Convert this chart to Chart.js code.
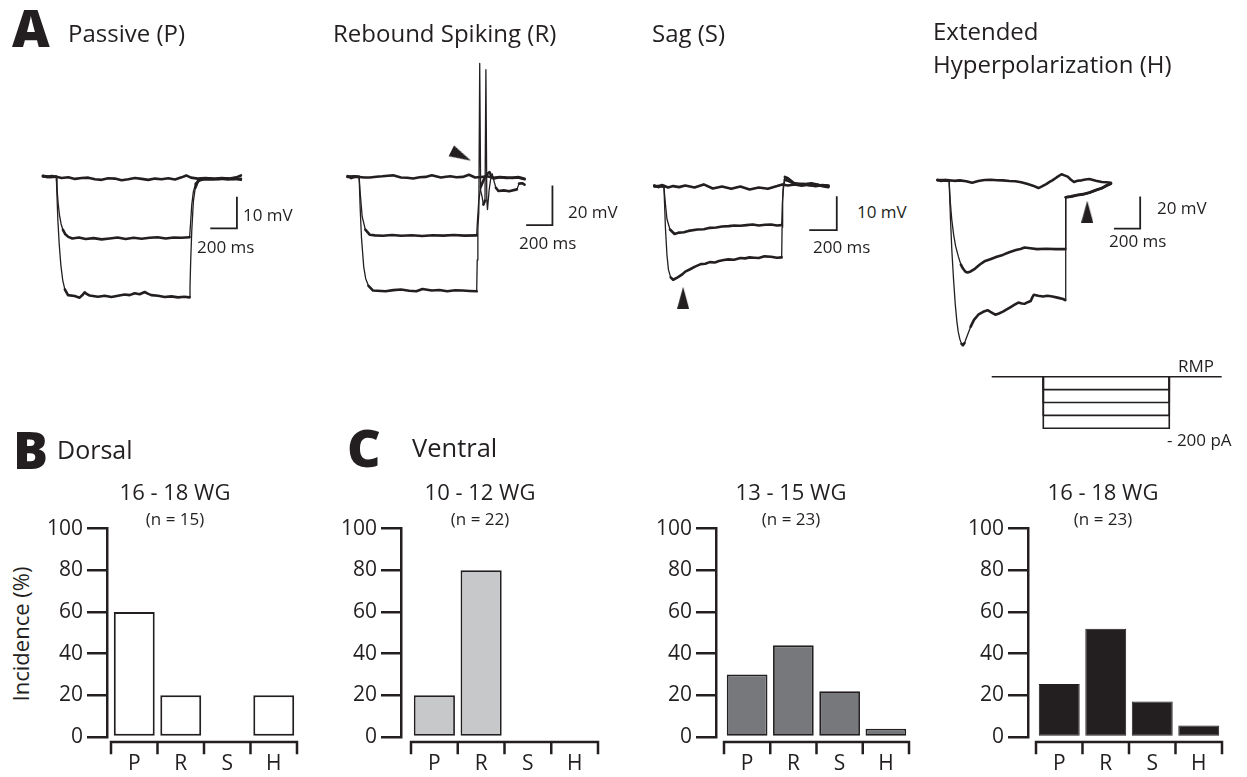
<!DOCTYPE html>
<html>
<head>
<meta charset="utf-8">
<script src="https://cdn.jsdelivr.net/npm/chart.js@4.4.1/dist/chart.umd.min.js"></script>
<style>
  body { margin: 0; background: #fff; }
  #fig { position: relative; width: 1247px; height: 777px; overflow: hidden; font-family: 'Open Sans', sans-serif; color: #231f20; }
  #fig canvas { position: absolute; }
  .t { position: absolute; white-space: nowrap; line-height: 1; }
</style>
</head>
<body>
<div id="fig"></div>
<script>
// ---- data: traces are [time ms, membrane potential mV rel. to rest] ----
passiveTop = [[-100,0.3],[-70,-0.1],[-35,0.2],[0,0],[40,-0.4],[90,-0.2],[140,-0.7],[190,-0.4],[240,-0.3],[290,-0.8],[340,-1.0],[390,-0.5],[440,-0.6],[490,-1.1],[540,-0.8],[590,-0.4],[640,-0.7],[690,-1.0],[740,-0.6],[790,-0.8],[840,-0.5],[890,-0.9],[940,-0.2],[975,0.4],[1010,-0.3],[1060,-0.6],[1120,-0.4],[1180,-0.7],[1240,-0.4],[1300,-0.6],[1350,-0.2],[1385,0.4]];
passiveMid = [[-100,0.1],[-50,-0.2],[0,0],[6,-4],[14,-8.5],[24,-12.2],[36,-15],[50,-16.9],[68,-18.3],[90,-19.1],[120,-19.6],[170,-19.3],[220,-19.8],[280,-19.5],[340,-19.9],[400,-19.6],[460,-19.3],[520,-19.8],[580,-19.4],[640,-19.7],[700,-19.4],[760,-19.2],[820,-19.6],[880,-19.3],[940,-19.4],[1000,-19.2],[1007,-15],[1016,-9],[1028,-4.8],[1045,-2.3],[1070,-1.2],[1110,-0.8],[1170,-0.9],[1230,-0.6],[1290,-0.9],[1340,-0.6],[1385,-1.0]];
passiveBot = [[-100,0.2],[-40,0],[0,0],[5,-6],[12,-14],[22,-21.5],[34,-28],[48,-32.8],[64,-35.8],[88,-37.6],[138,-37.9],[175,-38.4],[200,-37.4],[213,-36.7],[230,-37.3],[250,-37.7],[313,-38.1],[363,-37.8],[413,-38.2],[463,-37.8],[513,-37.4],[550,-37.6],[588,-37.0],[625,-37.3],[663,-36.6],[690,-37.2],[713,-37.6],[763,-37.8],[813,-38.2],[863,-38.0],[913,-38.3],[960,-38.1],[1000,-38.3],[1003,-35],[1008,-27],[1016,-17.5],[1028,-8],[1042,-3.6],[1062,-1.5],[1090,-0.7],[1150,-0.5],[1210,-0.8],[1270,-0.5],[1330,-0.8],[1385,-0.7]];
passiveBar = [[1155,-16.4],[1355,-16.4],[1355,-6.4]];

reboundTop = [[-88,0.4],[-60,-0.6],[-30,0.2],[0,0],[40,-0.3],[82,-0.3],[130,0.1],[176,0.3],[220,0.6],[258,0.8],[318,-0.3],[365,-0.4],[411,-0.8],[460,-0.2],[505,0],[553,0.8],[590,0.2],[623,-0.3],[660,0.1],[694,0.3],[740,-0.2],[788,0],[835,1.1],[882,-0.3],[929,0],[975,0.3],[1023,-0.5],[1070,0],[1120,-0.3],[1165,-0.5],[1210,-0.3],[1258,-1.2]];
reboundMid = [[-88,0.2],[-40,0],[0,0],[8,-8],[23,-20],[47,-26.7],[82,-29.3],[120,-29.6],[180,-29.8],[250,-29.4],[320,-29.8],[400,-29.5],[480,-29.9],[560,-29.5],[640,-29.7],[720,-29.4],[800,-29.7],[894,-29.6],[900,-22],[910,-12],[925,-5],[950,-1],[975,1.6],[992,2.4],[1005,0.5],[1023,-0.8],[1070,-0.2],[1120,-0.5],[1165,-0.4],[1210,-0.1],[1258,-0.9]];
reboundBot = [[-88,0],[-40,0.3],[0,0],[8,-16],[18,-31],[35,-45.6],[50,-51.5],[71,-55.1],[106,-57.5],[200,-57.9],[260,-57.3],[318,-57.0],[380,-57.6],[435,-57.9],[482,-56.7],[553,-57.5],[610,-57.2],[670,-57.9],[730,-57.4],[788,-57.5],[840,-57.7],[894,-57.9],[898,-42],[903,-26],[910,-18],[917,57.5],[924,-7],[935,-10],[945,-14],[957,-12],[964,54.3],[971,-12],[976,-16.5],[988,-7],[999,-1.6],[1012,1.5],[1025,-2],[1040,-5.5],[1059,-7.1],[1100,-6.8],[1140,-7.3],[1200,-6.3],[1216,-3.4],[1240,-3.2],[1258,-3.9]];
reboundBar = [[1270,-24.4],[1470,-24.4],[1470,-4.4]];
reboundArrow = [[776,10.7]];

sagTop = [[-70,0.3],[-40,-0.2],[-15,0.4],[0,0.2],[30,-0.3],[67,0.1],[110,-0.2],[155,0.3],[222,-0.3],[289,0.6],[355,-0.6],[422,0],[489,-0.7],[555,0],[622,-0.9],[689,-0.3],[755,-0.7],[822,0.1],[860,0.6],[900,0.3],[950,0.6],[1000,0.2],[1050,0.5],[1100,0.1],[1150,0.4],[1195,0.1]];
sagMid = [[-70,0.1],[-30,0],[0,0],[5,-2.5],[11,-5.2],[22,-9.6],[44,-12.7],[77,-14.0],[111,-13.6],[145,-13.5],[178,-13.1],[244,-12.7],[290,-12.6],[333,-12.2],[380,-12.1],[422,-11.8],[470,-11.7],[511,-11.5],[555,-11.6],[600,-11.4],[645,-11.2],[689,-11.5],[735,-11.3],[778,-11.2],[820,-11.5],[855,-11.4],[860,-5],[866,-1],[878,2.0],[911,1.5],[955,0.6],[1010,0.8],[1060,0.3],[1110,0.5],[1160,0],[1195,-0.2]];
sagBot = [[-70,0],[-30,0.2],[0,0],[5,-5.5],[11,-12.3],[22,-20.2],[33,-24.6],[49,-26.8],[67,-27.5],[100,-26.8],[130,-26.0],[155,-25.1],[190,-24.4],[222,-23.7],[267,-22.9],[300,-22.8],[333,-22.3],[370,-22.4],[400,-22.0],[435,-21.7],[467,-21.5],[510,-21.6],[555,-21.1],[590,-21.2],[622,-20.9],[655,-21.0],[689,-21.1],[730,-20.6],[778,-20.7],[820,-21.0],[855,-20.9],[858,-12],[862,-4],[867,0.1],[878,2.8],[900,2.4],[944,1.0],[1011,0.6],[1070,0.9],[1130,0.4],[1195,0.3]];
sagBar = [[1055,-12.9],[1255,-12.9],[1255,-2.9]];
sagArrow = [[139,-32.8]];

extTop = [[-88,0.3],[-60,-0.4],[-30,0.2],[0,0],[40,-0.3],[82,0],[130,-0.6],[176,-1.5],[223,-0.4],[270,0.2],[318,0.4],[365,0.1],[411,0],[460,-0.4],[505,-0.6],[550,-1.2],[600,-2.3],[640,-3.3],[682,-4.8],[712,-3.6],[741,-2.3],[770,-0.8],[788,0],[820,1.8],[858,3.8],[880,3.1],[905,2.3],[930,0.4],[953,-1.0],[980,-0.3],[1011,0],[1040,0.5],[1070,0.8],[1120,-0.2],[1165,-1.0],[1200,-1.2],[1235,-1.5]];
extMid = [[-88,0.2],[-50,0],[-12,-0.3],[0,0],[10,-14],[20,-24],[35,-34],[50,-41],[71,-47.6],[90,-52.5],[106,-55],[125,-57],[141,-57.5],[165,-56.8],[199,-55],[235,-52.5],[270,-50.5],[320,-49],[364,-47.6],[410,-46.5],[459,-44.8],[510,-43.5],[545,-42.8],[576,-41.9],[620,-42.4],[671,-42.9],[740,-42.7],[812,-42.9],[886,-42.9],[890,-10.5],[930,-10],[976,-9.1],[1020,-8.6],[1070,-7.6],[1120,-6],[1165,-4.8],[1200,-3.2],[1235,-1.9]];
extBot = [[-88,0.1],[-40,0.2],[0,0],[11,-24.8],[22,-45],[35,-62.9],[47,-77],[59,-87.6],[70,-94.5],[82,-99],[95,-102],[106,-102.9],[118,-101.5],[129,-99],[145,-95.5],[164,-91.4],[190,-87],[223,-83.8],[260,-82],[294,-81],[325,-82.5],[353,-83.8],[380,-83],[411,-81.9],[440,-80.5],[470,-79],[500,-77.5],[529,-76.2],[555,-76.8],[576,-77],[600,-76],[623,-75.2],[635,-73],[646,-71.4],[680,-72],[717,-72.4],[750,-72],[788,-72.4],[835,-73.3],[870,-74],[886,-74.7],[890,-10.5],[930,-10.2],[976,-9.3],[1020,-8.8],[1070,-7.8],[1120,-6.2],[1165,-5],[1200,-3.4],[1235,-2.1]];
extBar = [[1258,-30.1],[1458,-30.1],[1458,-10.1]];
extArrow = [[1054,-19.5]];

// current protocol, pA
stepLevels = [-50, -100, -150, -200];
stepOn = 0;
stepOff = 889;
sweepSpan = [-364, 1259];

// incidence (%)
categories = ["P", "R", "S", "H"];
dorsal1618 = [60, 20, 0, 20];
ventral1012 = [20, 80, 0, 0];
ventral1315 = [30, 44, 22, 4];
ventral1618 = [25.5, 52, 17, 5.5];

const ink = '#231f20';
const family = "'Open Sans', sans-serif";
const fig = document.getElementById('fig');
Chart.defaults.font.family = family;
Chart.defaults.color = ink;

function addCanvas(left, top, w, h) {
    const c = document.createElement('canvas');
    c.width = w; c.height = h;
    c.style.left = left + 'px'; c.style.top = top + 'px';
    fig.appendChild(c);
    return c;
}

function label(text, x, cy, size, weight) {
    const d = document.createElement('div');
    d.className = 't';
    d.textContent = text;
    d.style.left = x + 'px';
    d.style.top = (cy - 0.53 * size) + 'px';
    d.style.fontSize = size + 'px';
    if (weight) d.style.fontWeight = weight;
    fig.appendChild(d);
    return d;
}

function toXY(pts) { return pts.map(p => ({x: p[0], y: p[1]})); }

// steep parts of a sweep are thin, plateaus look thick
const steepThin = c => {
    const dx = Math.abs(c.p1.x - c.p0.x), dy = Math.abs(c.p1.y - c.p0.y);
    return (dy > 4 && dy > 2.5 * dx) ? 1.3 : undefined;
};

function sweep(pts) {
    return { data: toXY(pts), borderColor: ink, borderWidth: 2.6, pointRadius: 0,
             borderJoinStyle: 'round', borderCapStyle: 'round', segment: { borderWidth: steepThin } };
}
function scaleBar(pts) {
    return { data: toXY(pts), borderColor: ink, borderWidth: 1.8, pointRadius: 0, borderCapStyle: 'butt' };
}
function arrowHead(w, h) {
    const c = document.createElement('canvas');
    c.width = w; c.height = h;
    const g = c.getContext('2d');
    g.fillStyle = ink;
    g.beginPath(); g.moveTo(w / 2, 0); g.lineTo(w, h); g.lineTo(0, h); g.closePath(); g.fill();
    return c;
}
function arrow(pts, rot) {
    return { data: toXY(pts), showLine: false, pointStyle: arrowHead(12, 22), rotation: rot, pointRadius: 8 };
}

// frame: pixel of (t=0, v=0) and px per unit
function traceChart(box, frame, datasets) {
    const c = addCanvas(box[0], box[1], box[2], box[3]);
    new Chart(c, {
        type: 'line',
        data: { datasets: datasets },
        options: {
            responsive: false, animation: false, events: [], devicePixelRatio: 1,
            layout: { padding: 0 },
            plugins: { legend: { display: false }, tooltip: { enabled: false } },
            scales: {
                x: { type: 'linear', display: false,
                     min: (box[0] - frame.x0) / frame.sx, max: (box[0] + box[2] - frame.x0) / frame.sx },
                y: { type: 'linear', display: false,
                     min: (frame.y0 - box[1] - box[3]) / frame.sy, max: (frame.y0 - box[1]) / frame.sy }
            }
        }
    });
}

traceChart([30, 140, 230, 180], {x0: 56.3, y0: 176.7, sx: 0.1333, sy: 3.15},
    [sweep(passiveTop), sweep(passiveMid), sweep(passiveBot), scaleBar(passiveBar)]);
traceChart([330, 45, 250, 270], {x0: 351.7, y0: 176.7, sx: 0.1417, sy: 2.117},
    [sweep(reboundTop), sweep(reboundMid), sweep(reboundBot), scaleBar(reboundBar), arrow(reboundArrow, 116.6)]);
traceChart([635, 150, 220, 180], {x0: 656.7, y0: 180.5, sx: 0.15, sy: 3.77},
    [sweep(sagTop), sweep(sagMid), sweep(sagBot), scaleBar(sagBar), arrow(sagArrow, 0)]);
traceChart([920, 150, 240, 215], {x0: 941.7, y0: 173.3, sx: 0.1417, sy: 1.75},
    [sweep(extTop), sweep(extMid), sweep(extBot), scaleBar(extBar), arrow(extArrow, 0)]);

// step protocol
const protocolSets = [{ data: toXY([[sweepSpan[0], 0], [sweepSpan[1], 0]]), borderColor: ink, borderWidth: 1.6, pointRadius: 0 }];
stepLevels.forEach(lv => {
    protocolSets.push({ data: toXY([[stepOn, 0], [stepOn, lv], [stepOff, lv], [stepOff, 0]]),
                        borderColor: ink, borderWidth: 1.6, pointRadius: 0 });
});
traceChart([985, 365, 245, 75], {x0: 1043.3, y0: 376.7, sx: 0.1417, sy: 0.258}, protocolSets);

// bracket-style category axis under the bars
const bracketPlugin = {
    id: 'bracket',
    afterDraw(chart) {
        const x = chart.scales.x, ctx = chart.ctx, y0 = chart.chartArea.bottom + 5;
        const edges = categories.map((c, i) => x.getPixelForValue(i - 0.5));
        edges.push(x.getPixelForValue(categories.length - 0.5));
        ctx.save();
        ctx.strokeStyle = ink; ctx.lineWidth = 2.5; ctx.lineCap = 'square';
        ctx.beginPath();
        ctx.moveTo(edges[0], y0); ctx.lineTo(edges[edges.length - 1], y0);
        edges.forEach(e => { ctx.moveTo(e, y0); ctx.lineTo(e, y0 + 11); });
        ctx.stroke();
        ctx.restore();
    }
};

function barChart(cfg) {
    const c = addCanvas(cfg.left, 470, cfg.width, 307);
    new Chart(c, {
        type: 'bar',
        data: { datasets: [{
            data: cfg.values.map((v, i) => ({x: i, y: v})),
            backgroundColor: cfg.fill, borderColor: cfg.edge,
            borderWidth: ctx => (ctx.raw && ctx.raw.y > 0) ? cfg.edgeWidth : 0,
            borderSkipped: false, barPercentage: 0.88, categoryPercentage: 1
        }]},
        options: {
            responsive: false, animation: false, events: [], devicePixelRatio: 1,
            layout: { padding: 0 },
            plugins: {
                legend: { display: false }, tooltip: { enabled: false },
                title: { display: true, text: cfg.title, color: ink,
                         font: { size: 22, weight: 'normal', lineHeight: '24px' }, padding: { top: 11.3, bottom: 6 } },
                subtitle: { display: true, text: cfg.n, color: ink,
                            font: { size: 17, lineHeight: '17.4px' }, padding: 0 }
            },
            scales: {
                x: { type: 'linear', offset: false, min: cfg.xmin, max: 3.5,
                     grid: { display: false }, border: { display: false },
                     afterBuildTicks: s => { s.ticks = categories.map((k, i) => ({value: i})); },
                     afterFit: s => { s.height = 40; },
                     ticks: { callback: v => categories[v], color: ink, autoSkip: false, maxRotation: 0,
                              font: { size: 21, lineHeight: 1.2 }, padding: 6 } },
                y: { min: 0, max: 100,
                     afterFit: s => { s.width = cfg.axisWidth; },
                     grid: { drawOnChartArea: false, tickLength: 20, lineWidth: 2.5, color: ink },
                     border: { display: true, color: ink, width: 2.5 },
                     ticks: { stepSize: 20, color: ink, font: { size: 21 }, padding: 4 } },
                // empty right-hand gutter so the title centres where the original does
                gutter: { type: 'linear', position: 'right', display: true,
                          grid: { display: false }, border: { display: false }, ticks: { display: false },
                          afterFit: s => { s.width = cfg.gutter; } }
            }
        },
        plugins: [bracketPlugin]
    });
}

barChart({ left: 40, width: 270, axisWidth: 67, gutter: 13, xmin: -0.586, values: dorsal1618,
           fill: '#ffffff', edge: ink, edgeWidth: 2, title: '16 - 18 WG', n: '(n = 15)' });
barChart({ left: 336, width: 288, axisWidth: 65, gutter: 26, xmin: -0.714, values: ventral1012,
           fill: '#c7c8ca', edge: ink, edgeWidth: 1.8, title: '10 - 12 WG', n: '(n = 22)' });
barChart({ left: 650, width: 282, axisWidth: 66, gutter: 23, xmin: -0.673, values: ventral1315,
           fill: '#77787b', edge: ink, edgeWidth: 1.8, title: '13 - 15 WG', n: '(n = 23)' });
barChart({ left: 964, width: 278, axisWidth: 64, gutter: 20, xmin: -0.672, values: ventral1618,
           fill: ink, edge: ink, edgeWidth: 1, title: '16 - 18 WG', n: '(n = 23)' });

// text
label('A', 12, 29, 52, 800);
label('Passive (P)', 68, 33.3, 24);
label('Rebound Spiking (R)', 333, 33.3, 24);
label('Sag (S)', 652, 33.3, 24);
label('Extended', 933, 31.7, 24);
label('Hyperpolarization (H)', 933, 65, 24);
label('10 mV', 243, 215, 17);
label('200 ms', 197, 246.7, 17);
label('20 mV', 568, 211.7, 17);
label('200 ms', 519, 243.3, 17);
label('10 mV', 857, 211.7, 17);
label('200 ms', 813, 246.7, 17);
label('20 mV', 1157, 208.3, 17);
label('200 ms', 1109, 240.7, 17);
label('RMP', 1178, 366.5, 17);
label('- 200 pA', 1167, 440, 17);
label('B', 13, 451, 52, 800);
label('Dorsal', 57, 450, 25);
label('C', 347, 449, 52, 800);
label('Ventral', 412, 449, 25.5);

const yTitle = label('Incidence (%)', 20, 634, 22);
yTitle.style.top = '634px';
yTitle.style.transform = 'translate(-50%, -50%) rotate(-90deg)';
</script>
</body>
</html>
